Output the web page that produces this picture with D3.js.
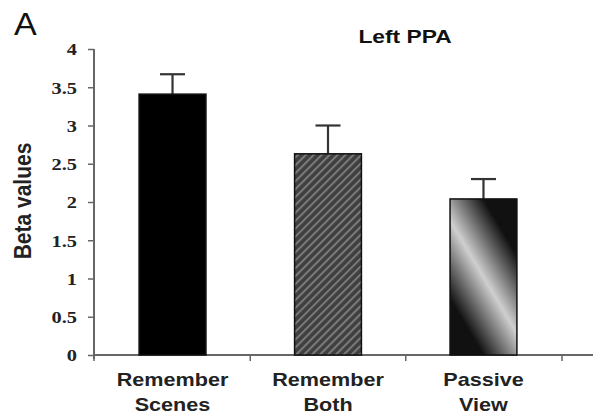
<!DOCTYPE html>
<html>
<head>
<meta charset="utf-8">
<script src="https://cdn.jsdelivr.net/npm/d3@7"></script>
<style>
  body { margin: 0; background: #fff; }
  svg { display: block; }
</style>
</head>
<body>
<svg id="chart" width="595" height="416"></svg>
<script>
// Data
const categories = [["Remember", "Scenes"], ["Remember", "Both"], ["Passive", "View"]];
const betaMeans = [3.41, 2.63, 2.04];
const betaErrors = [0.26, 0.37, 0.26];
const yTicks = [0, 0.5, 1, 1.5, 2, 2.5, 3, 3.5, 4];

const svg = d3.select('#chart');
const stretch = 1.2; // the figure is a bit wider than tall

const x = d3.scaleBand()
    .domain(categories.map((d, i) => i))
    .range([94, 562])
    .paddingInner(0.57)
    .paddingOuter(0.29);

const y = d3.scaleLinear()
    .domain([0, 4])
    .range([355, 49]);

// Fills
const defs = svg.append('defs');
const hatch = defs.append('pattern')
    .attr('id', 'hatch')
    .attr('patternUnits', 'userSpaceOnUse')
    .attr('width', 5.6)
    .attr('height', 6)
    .attr('patternTransform', 'rotate(45)');
hatch.append('rect').attr('width', 5.6).attr('height', 6).attr('fill', '#3f3f3f');
hatch.append('rect').attr('width', 2).attr('height', 6).attr('fill', '#7a7a7a');

// Shiny gradient for the last bar, in user space
const b3 = { x0: x(2), x1: x(2) + x.bandwidth(), y0: y(betaMeans[2]), y1: y(0) };
const cx = (b3.x0 + b3.x1) / 2, cy = (b3.y0 + b3.y1) / 2;
const ux = 0.86, uy = -0.51, span = 40;
const grad = defs.append('linearGradient')
    .attr('id', 'shine')
    .attr('gradientUnits', 'userSpaceOnUse')
    .attr('x1', cx - ux * span).attr('y1', cy - uy * span)
    .attr('x2', cx + ux * span).attr('y2', cy + uy * span);
grad.append('stop').attr('offset', '0').attr('stop-color', '#111');
grad.append('stop').attr('offset', '0.5').attr('stop-color', '#cfcfcf');
grad.append('stop').attr('offset', '1').attr('stop-color', '#111');

const fills = ['#000', 'url(#hatch)', 'url(#shine)'];

// Y axis
const yAxis = svg.append('g')
    .attr('transform', 'translate(94,0)')
    .call(d3.axisLeft(y).tickValues(yTicks).tickSize(6).tickPadding(11).tickFormat(d3.format('')));
yAxis.attr('font-family', null);
yAxis.select('.domain').attr('stroke', '#666').attr('stroke-width', 2).attr('d', 'M0,' + y(4) + 'V' + (y(0) + 4));
yAxis.selectAll('.tick line').attr('stroke', '#666').attr('stroke-width', 1.5);
yAxis.selectAll('.tick text')
    .attr('fill', '#222')
    .style('font-family', '"Liberation Serif", "DejaVu Serif", serif')
    .style('font-weight', 'bold')
    .style('font-size', '17px')
    .attr('dy', '0.34em')
    .attr('transform', () => {
        const xr = -17; // right edge of the labels
        return `translate(${xr},0) scale(${stretch},1) translate(${-xr},0)`;
    });

// X axis line and boundary ticks
const xBounds = categories.map((d, i) => i === 0 ? x.range()[0] : x(i) - x.step() * x.paddingInner() / 2);
xBounds.push(x.range()[1]);
svg.append('line')
    .attr('x1', 94).attr('x2', 593)
    .attr('y1', y(0)).attr('y2', y(0))
    .attr('stroke', '#666').attr('stroke-width', 2);
svg.selectAll('.xtick')
    .data(xBounds)
    .enter().append('line')
    .attr('class', 'xtick')
    .attr('x1', d => d).attr('x2', d => d)
    .attr('y1', y(0)).attr('y2', y(0) + 6)
    .attr('stroke', '#666').attr('stroke-width', 1.5);

// Error bars (upper only)
const capW = 25;
const err = svg.append('g').attr('stroke', '#333').attr('stroke-width', 2.2);
betaMeans.forEach((m, i) => {
    const cxi = x(i) + x.bandwidth() / 2;
    err.append('line')
        .attr('x1', cxi).attr('x2', cxi)
        .attr('y1', y(m)).attr('y2', y(m + betaErrors[i]));
    err.append('line')
        .attr('x1', cxi - capW / 2).attr('x2', cxi + capW / 2)
        .attr('y1', y(m + betaErrors[i])).attr('y2', y(m + betaErrors[i]));
});

// Bars
svg.selectAll('.bar')
    .data(betaMeans)
    .enter().append('rect')
    .attr('class', 'bar')
    .attr('x', (d, i) => x(i))
    .attr('y', d => y(d))
    .attr('width', x.bandwidth())
    .attr('height', d => y(0) - y(d))
    .attr('fill', (d, i) => fills[i])
    .attr('stroke', '#111')
    .attr('stroke-width', 1.5);

// Category labels
const labelFont = '"Liberation Sans", Arial, sans-serif';
categories.forEach((lines, i) => {
    const g = svg.append('g')
        .attr('transform', `translate(${x(i) + x.bandwidth() / 2},0) scale(${stretch},1)`);
    lines.forEach((t, k) => {
        g.append('text')
            .attr('y', 386 + k * 25)
            .attr('text-anchor', 'middle')
            .style('font-family', labelFont)
            .style('font-weight', 'bold')
            .style('font-size', '18px')
            .attr('fill', '#222')
            .text(t);
    });
});

// Y label
svg.append('text')
    .attr('transform', 'translate(31,201) rotate(-90) scale(1,1.1)')
    .attr('text-anchor', 'middle')
    .style('font-family', labelFont)
    .style('font-weight', 'bold')
    .style('font-size', '21px')
    .attr('fill', '#222')
    .text('Beta values');

// Title and panel letter
svg.append('text')
    .attr('transform', `translate(405,43) scale(${stretch},1)`)
    .attr('text-anchor', 'middle')
    .style('font-family', labelFont)
    .style('font-weight', 'bold')
    .style('font-size', '19px')
    .attr('fill', '#111')
    .text('Left PPA');

svg.append('text')
    .attr('transform', `translate(14,35) scale(1.1,1)`)
    .style('font-family', labelFont)
    .style('font-size', '31px')
    .attr('fill', '#111')
    .text('A');
</script>
</body>
</html>
